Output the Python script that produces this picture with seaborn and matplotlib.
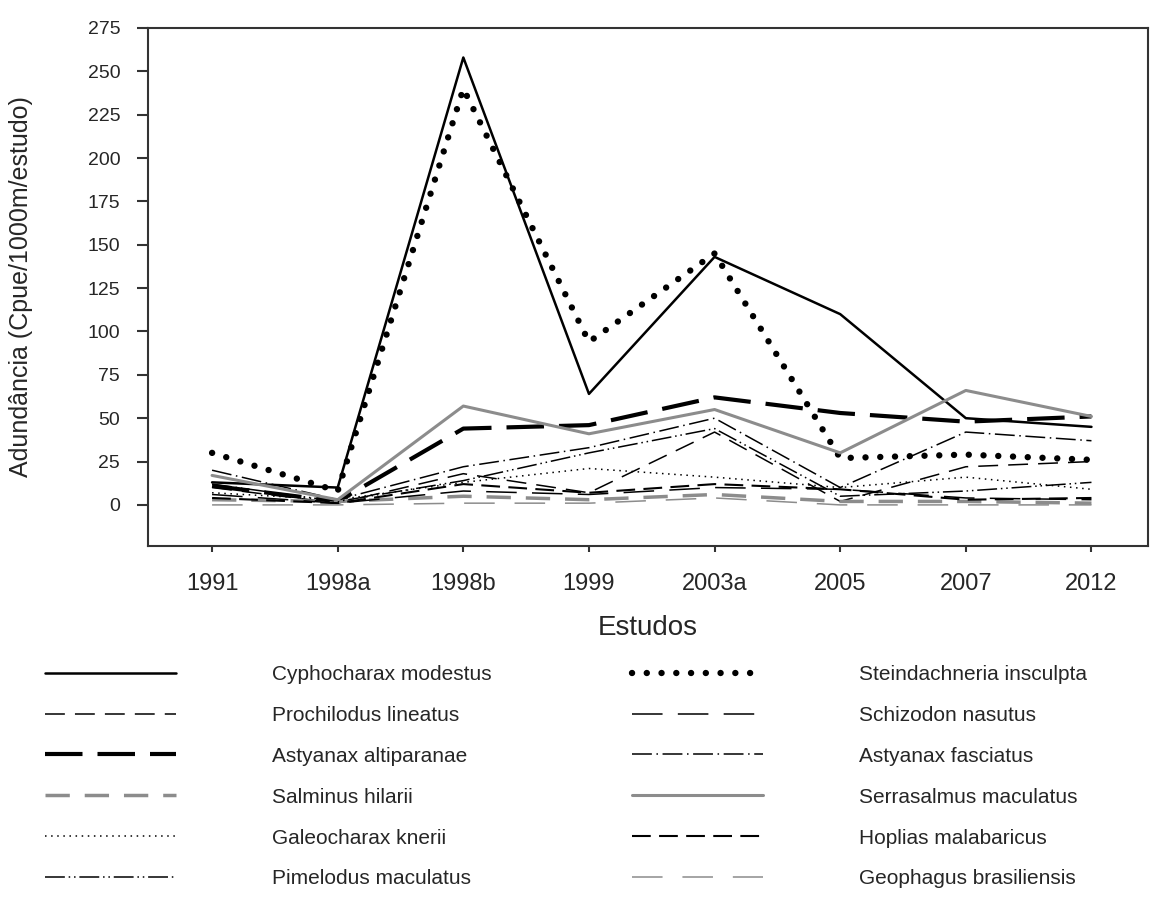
import numpy as np
import pandas as pd
import matplotlib
matplotlib.use("Agg")
import matplotlib.pyplot as plt
import seaborn as sns

# Style
sns.set_style("white")
plt.rcParams['font.family'] = ['Liberation Sans', 'DejaVu Sans']

# Data
estudos = ['1991', '1998a', '1998b', '1999', '2003a', '2005', '2007', '2012']

cyphocharax = [13, 10, 258, 64, 143, 110, 50, 45]
prochilodus = [10, 1, 18, 7, 42, 2, 22, 25]
astyanax_alt = [11, 2, 44, 46, 62, 53, 48, 51]
salminus = [3, 2, 5, 3, 6, 2, 2, 1]
galeocharax = [7, 3, 13, 21, 16, 10, 16, 9]
pimelodus = [12, 2, 14, 30, 44, 5, 8, 13]
steindachneria = [30, 8, 240, 94, 145, 27, 29, 26]
schizodon = [6, 1, 8, 6, 10, 9, 4, 3]
astyanax_fas = [20, 3, 22, 33, 50, 10, 42, 37]
serrasalmus = [17, 3, 57, 41, 55, 30, 66, 51]
hoplias = [4, 1, 12, 7, 12, 9, 3, 4]
geophagus = [0, 0, 1, 1, 4, 0, 0, 0]

species_left = ['Cyphocharax modestus', 'Prochilodus lineatus', 'Astyanax altiparanae',
                'Salminus hilarii', 'Galeocharax knerii', 'Pimelodus maculatus']
species_right = ['Steindachneria insculpta', 'Schizodon nasutus', 'Astyanax fasciatus',
                 'Serrasalmus maculatus', 'Hoplias malabaricus', 'Geophagus brasiliensis']
values = [cyphocharax, prochilodus, astyanax_alt, salminus, galeocharax, pimelodus,
          steindachneria, schizodon, astyanax_fas, serrasalmus, hoplias, geophagus]

# Line styles: (color, width, linestyle, capstyle)
styles = {
    'Cyphocharax modestus': ('black', 1.8, '-', 'butt'),
    'Prochilodus lineatus': ('black', 1.1, (0, (13, 6.6)), 'butt'),
    'Astyanax altiparanae': ('black', 3.0, (0, (9, 3.6)), 'butt'),
    'Salminus hilarii': ('#8c8c8c', 2.5, (0, (7, 4.3)), 'butt'),
    'Galeocharax knerii': ('black', 1.1, (0, (1, 3)), 'butt'),
    'Pimelodus maculatus': ('black', 1.1, (0, (13, 2.5, 1, 2.5, 1, 2.5)), 'butt'),
    'Steindachneria insculpta': ('black', 4.6, (0, (0.01, 2.3)), 'round'),
    'Schizodon nasutus': ('black', 1.1, (0, (20, 10)), 'butt'),
    'Astyanax fasciatus': ('black', 1.1, (0, (13, 3, 1, 3)), 'butt'),
    'Serrasalmus maculatus': ('#8c8c8c', 2.2, '-', 'butt'),
    'Hoplias malabaricus': ('black', 1.5, (0, (9, 4)), 'butt'),
    'Geophagus brasiliensis': ('#8c8c8c', 1.1, (0, (20, 13)), 'butt'),
}

fig = plt.figure(figsize=(11.61, 9.01), dpi=100)
ax = fig.add_axes([148 / 1161, 1 - 546 / 901, 1000 / 1161, 518 / 901])

handles = {}
for name, vals in zip(species_left + species_right, values):
    color, lw, ls, cap = styles[name]
    sns.lineplot(x=estudos, y=vals, ax=ax, color=color, linewidth=lw, linestyle=ls,
                 dash_capstyle=cap, legend=False, sort=False)
    handles[name] = ax.lines[-1]

ax.set_xlim(-0.51, 7.45)
ax.set_ylim(-23.7, 275)
ax.set_yticks(np.arange(0, 276, 25))

for sp in ax.spines.values():
    sp.set_visible(True)
    sp.set_color('#333333')
    sp.set_linewidth(1.5)

ax.tick_params(axis='y', direction='out', length=8, width=1.5, color='#333333',
               labelsize=14, pad=12, left=True)
ax.tick_params(axis='x', direction='out', length=4.5, width=1.5, color='#333333',
               labelsize=17, pad=15, bottom=True)

ax.set_xlabel('Estudos', fontsize=20, labelpad=14)
ax.set_ylabel('Adundância (Cpue/1000m/estudo)', fontsize=18, labelpad=39)

# Legend in two separate blocks
leg_kw = dict(frameon=False, fontsize=15, handlelength=6.3, handletextpad=4.6,
              labelspacing=1.05, borderpad=0, borderaxespad=0, loc='upper left')
leg1 = fig.legend([handles[n] for n in species_left], species_left,
                  bbox_to_anchor=(45 / 1161, 1 - 665 / 901), **leg_kw)
leg2 = fig.legend([handles[n] for n in species_right], species_right,
                  bbox_to_anchor=(632 / 1161, 1 - 665 / 901), **leg_kw)

fig.savefig('out.png', dpi=100)
